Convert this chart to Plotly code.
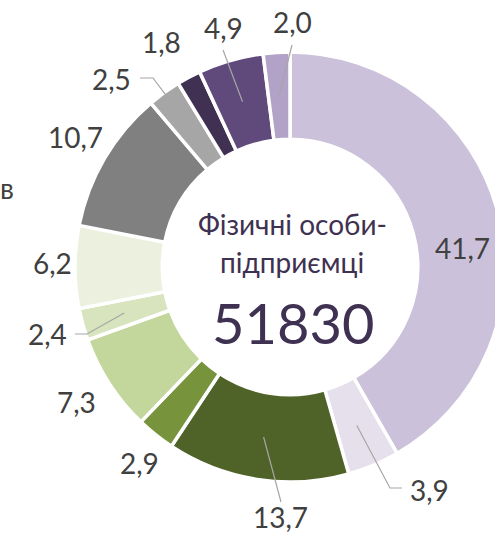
import math
import plotly.graph_objects as go

# ---- data ----
values = [41.7, 3.9, 13.7, 2.9, 7.3, 2.4, 6.2, 10.7, 2.5, 1.8, 4.9, 2.0]
value_labels = ["41,7", "3,9", "13,7", "2,9", "7,3", "2,4", "6,2", "10,7", "2,5", "1,8", "4,9", "2,0"]
center_title_lines = ["Фізичні особи-", "підприємці"]
center_value = "51830"
stray_text = "в"

# ---- style ----
colors = ["#CCC1DA", "#E6E0EC", "#4F6228", "#77933C", "#C3D69B", "#D7E4BD",
          "#EBF1DE", "#808080", "#A6A6A6", "#403152", "#604A7B", "#B3A2C7"]
CX, CY, R, HOLE = 290, 267, 215, 0.594
W, H = CX + R, 533
FONT = "Lato"
LABEL_COLOR = "#404040"
TITLE_COLOR = "#3F3151"

# label text centres (pixels) and leader routing (None = no leader)
label_pos = [(462, 248), (429, 490), (280, 517), (139, 463), (76, 402), (47, 334),
             (52, 263), (75, 137), (111, 79), (161, 42), (223, 28), (292, 22)]
leader_anchor_r = [None, 172, 172, None, None, 172, None, None, 212, None, 172, 172]
leader_path = [None, [(390, 488), (402, 488)], [(281, 502)], None, None,
               [(87, 334), (75, 334)], None, None, [(153, 78), (140, 78)], None,
               [(223, 50)], [(292, 45)]]
title_line_y = [224, 262]

fig = go.Figure()
fig.add_trace(go.Pie(
    values=values, sort=False, direction="clockwise", rotation=0,
    hole=HOLE, textinfo="none", hoverinfo="skip", showlegend=False,
    marker=dict(colors=colors, line=dict(color="white", width=3.5)),
    domain=dict(x=[(CX - R) / W, (CX + R) / W], y=[1 - (CY + R) / H, 1 - (CY - R) / H]),
))

# invisible pixel-space axes for labels and leaders
fig.update_xaxes(range=[0, W], visible=False, fixedrange=True)
fig.update_yaxes(range=[H, 0], visible=False, fixedrange=True)

total = sum(values)
cum = 0.0
for i, v in enumerate(values):
    mid = (cum + v / 2) / total * 2 * math.pi
    cum += v
    lx, ly = label_pos[i]
    fig.add_annotation(x=lx, y=ly, xref="x", yref="y", text=value_labels[i],
                       showarrow=False, xanchor="center", yanchor="middle",
                       font=dict(family=FONT, size=28, color=LABEL_COLOR))
    if leader_anchor_r[i] is not None:
        rr = leader_anchor_r[i]
        pts = [(CX + rr * math.sin(mid), CY - rr * math.cos(mid))] + leader_path[i]
        path = "M " + " L ".join(f"{x:.1f},{y:.1f}" for x, y in pts)
        fig.add_shape(type="path", path=path, xref="x", yref="y",
                      line=dict(color="#A6A6A6", width=1.2))

for line, ty in zip(center_title_lines, title_line_y):
    fig.add_annotation(x=CX + 2, y=ty, xref="x", yref="y", text=line,
                       showarrow=False, xanchor="center", yanchor="middle",
                       font=dict(family=FONT, size=28, color=TITLE_COLOR))
fig.add_annotation(x=CX + 3, y=322, xref="x", yref="y", text=center_value,
                   showarrow=False, xanchor="center", yanchor="middle",
                   font=dict(family=FONT, size=56, color=TITLE_COLOR))
fig.add_annotation(x=7, y=188, xref="x", yref="y", text=stray_text,
                   showarrow=False, xanchor="center", yanchor="middle",
                   font=dict(family=FONT, size=28, color=LABEL_COLOR))

fig.update_layout(width=W, height=H, margin=dict(l=0, r=0, t=0, b=0),
                  paper_bgcolor="white", plot_bgcolor="white")

fig.write_html("out.html", config={"displayModeBar": False},
               post_script="document.documentElement.style.overflow='hidden';document.body.style.overflow='hidden';document.body.style.margin='0';")
